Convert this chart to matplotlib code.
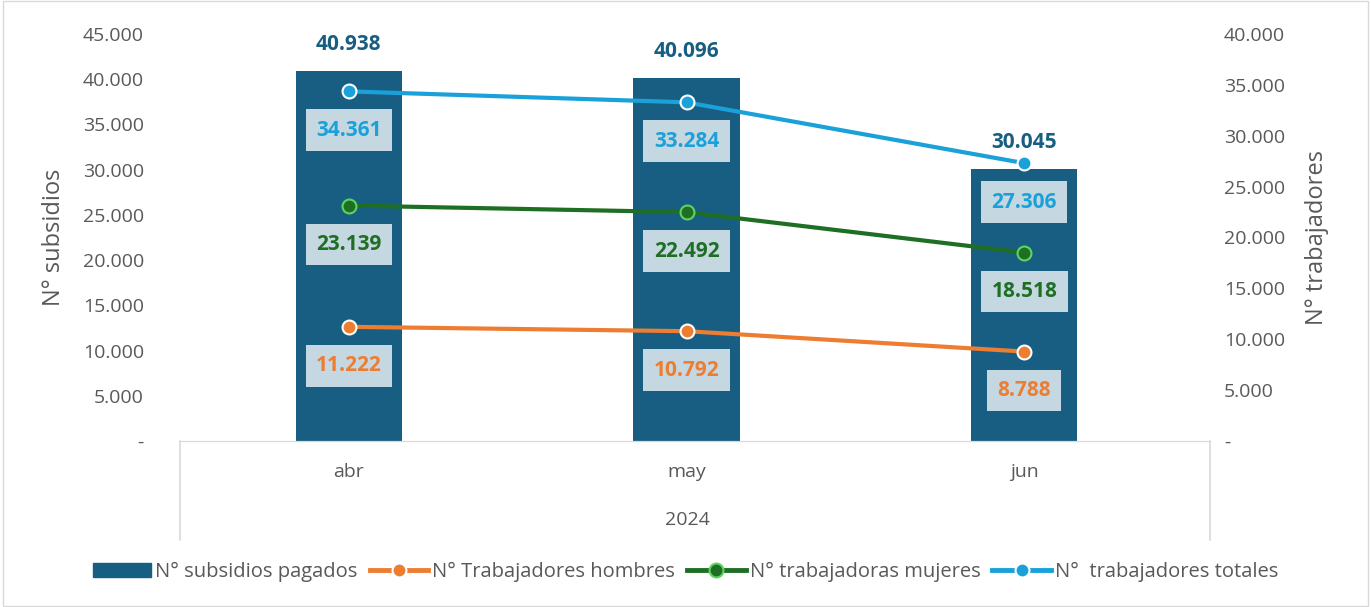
import matplotlib.pyplot as plt
from matplotlib.lines import Line2D
from matplotlib.patches import Rectangle

# Data
meses = ['abr', 'may', 'jun']
subsidios = [40938, 40096, 30045]
hombres = [11222, 10792, 8788]
mujeres = [23139, 22492, 18518]
totales = [34361, 33284, 27306]

c_bar = '#175e82'
c_h = '#ed7d31'
c_m = '#1e6e23'
c_t = '#1ba1d9'


def fmt(v):
    if v == 0:
        return '-'
    return f"{v:,.0f}".replace(',', '.')


plt.rcParams['font.family'] = ['Open Sans', 'DejaVu Sans']

fig = plt.figure(figsize=(13.71, 6.07), dpi=100)
ax = fig.add_axes([180/1371, 1-441/607, 1030/1371, (441-34)/607])
ax2 = ax.twinx()

x = range(len(meses))
ax.bar(x, subsidios, width=0.315, color=c_bar, zorder=2)
ax.set_xlim(-0.5, 2.55)
ax.set_ylim(0, 45000)
ax2.set_ylim(0, 40000)

for i, v in enumerate(subsidios):
    ax.annotate(fmt(v), (i, v), xytext=(0, 19), textcoords='offset points',
                ha='center', va='center', fontsize=15, fontweight='bold', color=c_bar)

series = [(hombres, c_h, 'white', 'N° Trabajadores hombres'),
          (mujeres, c_m, '#5fd35f', 'N° trabajadoras mujeres'),
          (totales, c_t, 'white', 'N°  trabajadores totales')]
for vals, col, edge, lab in series:
    ax2.plot(x, vals, color=col, lw=3, marker='o', markersize=10,
             markerfacecolor=col, markeredgecolor=edge, markeredgewidth=1.5, zorder=3)
    for i, v in enumerate(vals):
        ax2.annotate(fmt(v), (i, v), xytext=(0, -28), textcoords='offset points',
                     ha='center', va='center', fontsize=15, fontweight='bold', color=col,
                     bbox=dict(boxstyle='square,pad=0.5', fc='#c5d7e0', ec='none'))

ax.set_yticks(range(0, 45001, 5000))
ax.set_yticklabels([fmt(v) for v in range(0, 45001, 5000)])
ax2.set_yticks(range(0, 40001, 5000))
ax2.set_yticklabels([fmt(v) for v in range(0, 40001, 5000)])
ax.set_xticks(list(x))
ax.set_xticklabels(meses)

for a in (ax, ax2):
    for s in ['top', 'left', 'right']:
        a.spines[s].set_visible(False)
    a.spines['bottom'].set_color('#d9d9d9')
    a.tick_params(axis='y', length=0, labelsize=14, colors='#595959')
ax.tick_params(axis='y', pad=26)
ax2.tick_params(axis='y', pad=10)
ax.tick_params(axis='x', length=0, labelsize=14, colors='#595959', pad=16)

ax.set_ylabel('N° subsidios', fontsize=17, color='#595959', labelpad=12)
ax2.set_ylabel('N° trabajadores', fontsize=17, color='#595959', labelpad=14)

# category box below axis
for xp in (180, 1210):
    fig.add_artist(Line2D([xp/1371, xp/1371], [1-441/607, 1-540/607],
                          color='#d9d9d9', lw=1.2, transform=fig.transFigure))
fig.text(687/1371, 1-520/607, '2024', ha='center', va='center', fontsize=14, color='#595959')

# figure border
fig.add_artist(Rectangle((0.002, 0.002), 0.996, 0.996, transform=fig.transFigure,
                         fill=False, ec='#d9d9d9', lw=1))

handles = [Rectangle((0, 0), 1, 1, color=c_bar)]
for vals, col, edge, lab in series:
    handles.append(Line2D([0], [0], color=col, lw=3.5, marker='o', markersize=10,
                          markerfacecolor=col, markeredgecolor=edge, markeredgewidth=1.5))
labels = ['N° subsidios pagados'] + [s[3] for s in series]
fig.legend(handles, labels, loc='center', bbox_to_anchor=(0.5, 1-572/607), ncol=4,
           frameon=False, fontsize=14.5, handlelength=2.9, handletextpad=0.2,
           columnspacing=0.6, labelcolor='#595959')

fig.savefig('out.png', dpi=100)
